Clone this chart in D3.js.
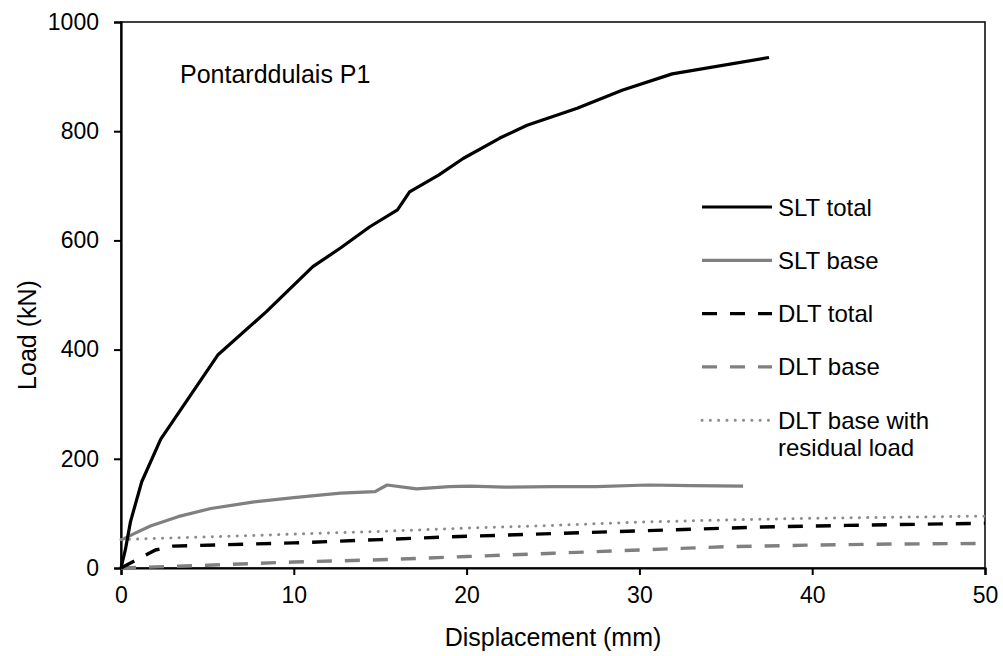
<!DOCTYPE html>
<html>
<head>
    <meta charset="utf-8">
    <title>Pontarddulais P1 load-displacement</title>
    <script src="https://d3js.org/d3.v7.min.js"></script>
    <style>
        body { margin: 0; background: #fff; }
        text { font-family: "Liberation Sans", Arial, sans-serif; fill: #000; }
        .tick-label { font-size: 23px; }
        .axis-title { font-size: 25px; }
        .legend-label { font-size: 24px; }
        .note { font-size: 25px; }
    </style>
</head>
<body>
    <div id="chart"></div>
    <script>
        // values
        const xTicks = [0, 10, 20, 30, 40, 50];
        const yTicks = [0, 200, 400, 600, 800, 1000];

        const sltTotalX = [0, 0.25, 0.55, 1.2, 2.3, 5.6, 8.4, 11.1, 12.7, 14.4, 16.0, 16.7, 18.4, 19.8, 21.9, 23.5, 26.4, 29.0, 31.9, 37.5];
        const sltTotalY = [0, 33, 85, 158, 236, 390, 469, 552, 586, 625, 656, 689, 720, 750, 787, 811, 842, 875, 905, 935];

        const sltBaseX = [0, 0.7, 1.7, 3.3, 5.2, 7.7, 10.0, 12.7, 14.7, 15.4, 17.1, 19.0, 20.2, 22.2, 25, 27.5, 30.5, 33, 36];
        const sltBaseY = [51, 62, 77, 94, 109, 121, 129, 137, 140, 152, 145, 149, 150, 148, 149, 149, 152, 151, 150];

        const dltTotalX = [0, 2, 3, 10, 15, 19, 25, 30, 37, 42, 50];
        const dltTotalY = [0, 33, 40, 46, 52, 57, 63, 68, 75, 78, 82];

        const dltBaseX = [0, 2, 5, 10, 15, 20, 25, 30, 35, 40, 45, 50];
        const dltBaseY = [0, 2, 5, 11, 15, 21, 27, 33, 39, 42, 44, 45];

        const dltResX = [0, 5, 10, 15, 20, 25, 30, 35, 40, 45, 50];
        const dltResY = [52, 57, 62, 67, 73, 78, 84, 88, 91, 93, 95];

        const width = 1003;
        const height = 656;
        const plot = { left: 121, right: 985, top: 22, bottom: 568 };

        const series = [
            { name: 'SLT total', xs: sltTotalX, ys: sltTotalY, color: '#000', dash: null, w: 3.2 },
            { name: 'SLT base', xs: sltBaseX, ys: sltBaseY, color: '#808080', dash: null, w: 3.2 },
            { name: 'DLT total', xs: dltTotalX, ys: dltTotalY, color: '#000', dash: '15,13', w: 3.4 },
            { name: 'DLT base', xs: dltBaseX, ys: dltBaseY, color: '#808080', dash: '15,13', w: 3.4 },
            { name: ['DLT base with', 'residual load'], xs: dltResX, ys: dltResY, color: '#8c8c8c', dash: 'dot', w: 3 }
        ];

        const svg = d3.select('#chart')
            .append('svg')
            .attr('width', width)
            .attr('height', height);

        const x = d3.scaleLinear().domain([0, 50]).range([plot.left, plot.right]);
        const y = d3.scaleLinear().domain([0, 1000]).range([plot.bottom, plot.top]);

        // plot frame
        svg.append('rect')
            .attr('x', plot.left).attr('y', plot.top)
            .attr('width', plot.right - plot.left).attr('height', plot.bottom - plot.top)
            .attr('fill', 'none').attr('stroke', '#000').attr('stroke-width', 1.5);

        // axes
        const xAxis = svg.append('g')
            .attr('transform', `translate(0,${plot.bottom})`)
            .call(d3.axisBottom(x).tickValues(xTicks).tickSize(7).tickPadding(12).tickFormat(d3.format('d')));
        const yAxis = svg.append('g')
            .attr('transform', `translate(${plot.left},0)`)
            .call(d3.axisLeft(y).tickValues(yTicks).tickSize(7).tickPadding(15).tickFormat(d3.format('d')));

        [xAxis, yAxis].forEach(g => {
            g.attr('font-size', null).attr('font-family', null);
            g.select('.domain').attr('stroke', '#000').attr('stroke-width', 2.2);
            g.selectAll('.tick line').attr('stroke', '#000').attr('stroke-width', 2);
            g.selectAll('.tick text').attr('class', 'tick-label');
        });

        const line = d3.line()
            .x(d => x(d[0]))
            .y(d => y(d[1]));

        function styleLine(sel, s) {
            sel.attr('fill', 'none')
                .attr('stroke', s.color)
                .attr('stroke-width', s.w);
            if (s.dash === 'dot') {
                sel.attr('stroke-dasharray', '0.1,8.2').attr('stroke-linecap', 'round');
            } else if (s.dash) {
                sel.attr('stroke-dasharray', s.dash).attr('stroke-linecap', 'butt');
            } else {
                sel.attr('stroke-linejoin', 'round');
            }
        }

        // draw back to front so the totals sit on top
        series.slice().reverse().forEach(s => {
            const pts = s.xs.map((v, i) => [v, s.ys[i]]);
            svg.append('path')
                .datum(pts)
                .attr('d', line)
                .call(styleLine, s);
        });

        // legend
        const legend = svg.append('g').attr('transform', 'translate(702,207)');
        series.forEach((s, i) => {
            const g = legend.append('g').attr('transform', `translate(0,${i * 53.3})`);
            g.append('line')
                .attr('x1', 0).attr('x2', 70)
                .attr('y1', 0).attr('y2', 0)
                .call(styleLine, s);
            const names = Array.isArray(s.name) ? s.name : [s.name];
            const t = g.append('text')
                .attr('class', 'legend-label')
                .attr('x', 76)
                .attr('y', 8.5);
            names.forEach((n, j) => {
                t.append('tspan')
                    .attr('x', 76)
                    .attr('dy', j === 0 ? 0 : 27)
                    .text(n);
            });
        });

        // annotation
        svg.append('text')
            .attr('class', 'note')
            .attr('x', 180)
            .attr('y', 83)
            .text('Pontarddulais P1');

        // axis titles
        svg.append('text')
            .attr('class', 'axis-title')
            .attr('text-anchor', 'middle')
            .attr('x', (plot.left + plot.right) / 2)
            .attr('y', 646)
            .text('Displacement (mm)');

        svg.append('text')
            .attr('class', 'axis-title')
            .attr('text-anchor', 'middle')
            .attr('transform', 'translate(36,335) rotate(-90)')
            .text('Load (kN)');
    </script>
</body>
</html>
